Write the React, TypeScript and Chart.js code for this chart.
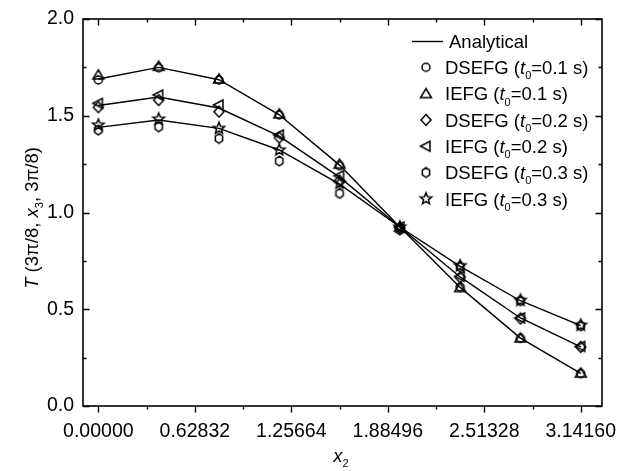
import React, { useEffect, useRef } from "react";
import { Chart, registerables } from "chart.js";
Chart.register(...registerables);

// ---- data ----
const xPositions = [0, 0.3927, 0.7854, 1.1781, 1.5708, 1.9635, 2.3562, 2.7489, 3.1416];

const analyticalT01 = [1.69, 1.75, 1.686, 1.505, 1.245, 0.925, 0.613, 0.351, 0.169];
const analyticalT02 = [1.553, 1.597, 1.54, 1.395, 1.183, 0.925, 0.667, 0.455, 0.306];
const analyticalT03 = [1.44, 1.478, 1.435, 1.323, 1.147, 0.925, 0.722, 0.544, 0.415];

const dsefgT01 = [1.685, 1.748, 1.685, 1.504, 1.242, 0.92, 0.615, 0.35, 0.168];
const iefgT01 = [1.711, 1.756, 1.69, 1.51, 1.25, 0.925, 0.612, 0.352, 0.17];
const dsefgT02 = [1.544, 1.581, 1.521, 1.387, 1.165, 0.92, 0.665, 0.452, 0.305];
const iefgT02 = [1.564, 1.607, 1.556, 1.401, 1.19, 0.925, 0.67, 0.455, 0.308];
const dsefgT03 = [1.426, 1.443, 1.383, 1.266, 1.099, 0.91, 0.72, 0.544, 0.415];
const iefgT03 = [1.452, 1.483, 1.435, 1.323, 1.151, 0.925, 0.725, 0.546, 0.417];

const xTickValues = [0, 0.62832, 1.25664, 1.88496, 2.51328, 3.1416];
const xTickLabels = ["0.00000", "0.62832", "1.25664", "1.88496", "2.51328", "3.14160"];
const xMinorTicks = [0.31416, 0.94248, 1.5708, 2.19912, 2.82744];
const yTickValues = [0, 0.5, 1.0, 1.5, 2.0];
const yTickLabels = ["0.0", "0.5", "1.0", "1.5", "2.0"];
const yMinorTicks = [0.25, 0.75, 1.25, 1.75];

const legendMethods = ["DSEFG", "IEFG", "DSEFG", "IEFG", "DSEFG", "IEFG"];
const legendTimes = ["0.1", "0.1", "0.2", "0.2", "0.3", "0.3"];
const markerKinds = ["circle", "triangle", "diamond", "left", "hexagon", "star"];

const FONT = "'Liberation Sans', Arial, sans-serif";

function makeMarker(kind: string): HTMLCanvasElement {
  const s = 16;
  const c = document.createElement("canvas");
  c.width = s;
  c.height = s;
  const g = c.getContext("2d")!;
  g.strokeStyle = "#000";
  g.lineWidth = 1.5;
  const m = s / 2;
  g.beginPath();
  if (kind === "circle") {
    g.arc(m, m, 4, 0, Math.PI * 2);
  } else if (kind === "triangle") {
    g.moveTo(m, m - 5);
    g.lineTo(m + 5.5, m + 4);
    g.lineTo(m - 5.5, m + 4);
    g.closePath();
  } else if (kind === "diamond") {
    g.moveTo(m, m - 5.5);
    g.lineTo(m + 5, m);
    g.lineTo(m, m + 5.5);
    g.lineTo(m - 5, m);
    g.closePath();
  } else if (kind === "left") {
    g.moveTo(m - 5.5, m);
    g.lineTo(m + 4, m - 5);
    g.lineTo(m + 4, m + 5);
    g.closePath();
  } else if (kind === "hexagon") {
    for (let i = 0; i < 6; i++) {
      const a = -Math.PI / 2 + (i * Math.PI) / 3;
      const px = m + 4.2 * Math.cos(a);
      const py = m + 4.8 * Math.sin(a);
      if (i === 0) g.moveTo(px, py);
      else g.lineTo(px, py);
    }
    g.closePath();
  } else if (kind === "star") {
    for (let i = 0; i < 10; i++) {
      const r = i % 2 === 0 ? 6 : 2.6;
      const a = -Math.PI / 2 + (i * Math.PI) / 5;
      const px = m + r * Math.cos(a);
      const py = m + r * Math.sin(a);
      if (i === 0) g.moveTo(px, py);
      else g.lineTo(px, py);
    }
    g.closePath();
  }
  g.stroke();
  return c;
}

type Part = { t: string; italic?: boolean; sub?: boolean };

function drawRich(ctx: CanvasRenderingContext2D, parts: Part[], x: number, y: number, size: number, center = false) {
  const subSize = Math.round(size * 0.62);
  const fontOf = (p: Part) =>
    `${p.italic ? "italic " : ""}${p.sub ? subSize : size}px ${FONT}`;
  let total = 0;
  for (const p of parts) {
    ctx.font = fontOf(p);
    total += ctx.measureText(p.t).width;
  }
  let cx = center ? x - total / 2 : x;
  ctx.textBaseline = "alphabetic";
  ctx.textAlign = "left";
  for (const p of parts) {
    ctx.font = fontOf(p);
    ctx.fillText(p.t, cx, p.sub ? y + size * 0.28 : y);
    cx += ctx.measureText(p.t).width;
  }
}

export default function App() {
  const ref = useRef<HTMLCanvasElement | null>(null);

  useEffect(() => {
    if (!ref.current) return;
    const markers = markerKinds.map(makeMarker);
    const toXY = (arr: number[]) => arr.map((v, i) => ({ x: xPositions[i], y: v }));

    const lineDs = (arr: number[]) => ({
      type: "line" as const,
      data: toXY(arr),
      borderColor: "#000",
      borderWidth: 1.4,
      pointRadius: 0,
      fill: false,
      tension: 0,
      order: 2,
    });
    const numeric = [dsefgT01, iefgT01, dsefgT02, iefgT02, dsefgT03, iefgT03];
    const pointDs = numeric.map((arr, i) => ({
      type: "line" as const,
      data: toXY(arr),
      showLine: false,
      borderColor: "#000",
      backgroundColor: "transparent",
      pointStyle: markers[i],
      pointRadius: 5,
      order: 1,
    }));

    const decor = {
      id: "decor",
      afterDraw(chart: any) {
        const { ctx, chartArea: a, scales } = chart;
        const xs = scales.x;
        const ys = scales.y;
        ctx.save();
        ctx.strokeStyle = "#000";
        ctx.lineWidth = 1.6;
        ctx.strokeRect(a.left, a.top, a.right - a.left, a.bottom - a.top);
        ctx.lineWidth = 1.4;
        ctx.beginPath();
        const xt = [...xTickValues.map((v) => [v, 1]), ...xMinorTicks.map((v) => [v, 0])];
        for (const [v, maj] of xt) {
          const px = Math.round(xs.getPixelForValue(v)) + 0.5;
          const L = maj ? 6.5 : 3.5;
          ctx.moveTo(px, a.bottom);
          ctx.lineTo(px, a.bottom + L);
          ctx.moveTo(px, a.top);
          ctx.lineTo(px, a.top + L);
        }
        const yt = [...yTickValues.map((v) => [v, 1]), ...yMinorTicks.map((v) => [v, 0])];
        for (const [v, maj] of yt) {
          const py = Math.round(ys.getPixelForValue(v)) + 0.5;
          const L = maj ? 6.5 : 3.5;
          ctx.moveTo(a.left, py);
          ctx.lineTo(a.left + L, py);
          ctx.moveTo(a.right, py);
          ctx.lineTo(a.right - L, py);
        }
        ctx.stroke();

        // legend
        ctx.fillStyle = "#000";
        const lx = 412;
        const ly0 = 41;
        const step = 26.3;
        ctx.beginPath();
        ctx.lineWidth = 1.4;
        ctx.moveTo(lx, ly0 + 0.5);
        ctx.lineTo(lx + 31, ly0 + 0.5);
        ctx.stroke();
        drawRich(ctx, [{ t: "Analytical" }], 449, ly0 + 6.8, 18.5);
        for (let i = 0; i < 6; i++) {
          const y = ly0 + step * (i + 1);
          const mk = markers[i];
          ctx.drawImage(mk, 426 - mk.width / 2, y - mk.height / 2);
          drawRich(
            ctx,
            [
              { t: legendMethods[i] + " (" },
              { t: "t", italic: true },
              { t: "0", sub: true },
              { t: "=" + legendTimes[i] + " s)" },
            ],
            445,
            y + 6.8,
            18.5
          );
        }

        // axis titles
        drawRich(ctx, [{ t: "x", italic: true }, { t: "2", sub: true }], 341, 462, 18.5, true);
        ctx.translate(31, 218);
        ctx.rotate(-Math.PI / 2);
        drawRich(
          ctx,
          [
            { t: "T", italic: true },
            { t: " (3π/8, " },
            { t: "x", italic: true },
            { t: "3", sub: true },
            { t: ", 3π/8)" },
          ],
          0,
          6.5,
          18.5,
          true
        );
        ctx.restore();
      },
    };

    const chart = new Chart(ref.current, {
      type: "line",
      data: {
        datasets: [lineDs(analyticalT01), lineDs(analyticalT02), lineDs(analyticalT03), ...pointDs] as any,
      },
      options: {
        animation: false,
        responsive: true,
        maintainAspectRatio: false,
        layout: { padding: { left: 0, top: 19, right: 20, bottom: 0 } },
        plugins: { legend: { display: false }, tooltip: { enabled: false } },
        scales: {
          x: {
            type: "linear",
            min: -0.1,
            max: 3.28,
            grid: { display: false, drawTicks: false },
            border: { display: false },
            afterBuildTicks: (s: any) => {
              s.ticks = xTickValues.map((v) => ({ value: v }));
            },
            afterFit: (s: any) => {
              s.height = 65;
              s.paddingLeft = 0;
              s.paddingRight = 0;
            },
            ticks: {
              autoSkip: false,
              maxRotation: 0,
              padding: 14,
              color: "#000",
              font: { family: FONT, size: 19.5 },
              callback: (v: any) => {
                const i = xTickValues.findIndex((t) => Math.abs(t - Number(v)) < 1e-6);
                return i >= 0 ? xTickLabels[i] : "";
              },
            },
          },
          y: {
            type: "linear",
            min: 0,
            max: 2,
            grid: { display: false, drawTicks: false },
            border: { display: false },
            afterBuildTicks: (s: any) => {
              s.ticks = yTickValues.map((v) => ({ value: v }));
            },
            afterFit: (s: any) => {
              s.width = 83;
              s.paddingTop = 0;
              s.paddingBottom = 0;
            },
            ticks: {
              padding: 9,
              color: "#000",
              font: { family: FONT, size: 19.5 },
              callback: (v: any) => {
                const i = yTickValues.findIndex((t) => Math.abs(t - Number(v)) < 1e-6);
                return i >= 0 ? yTickLabels[i] : "";
              },
            },
          },
        },
      },
      plugins: [decor],
    });
    return () => chart.destroy();
  }, []);

  return (
    <div style={{ position: "fixed", left: 0, top: 0, width: 622, height: 471, background: "#fff" }}>
      <canvas ref={ref} />
    </div>
  );
}
